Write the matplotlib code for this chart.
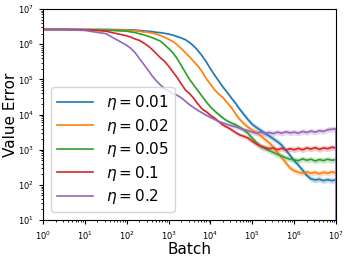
import numpy as np
import matplotlib
matplotlib.use("Agg")
import matplotlib.pyplot as plt

# batch axis, as log10(batch)
batch_exp = [0, 0.5, 1, 1.5,
             2.0, 2.1, 2.2, 2.3, 2.4, 2.5, 2.6, 2.7, 2.8, 2.9,
             3.0, 3.1, 3.2, 3.3, 3.4, 3.5, 3.6, 3.7, 3.8, 3.9,
             4.0, 4.1, 4.2, 4.3, 4.4, 4.5, 4.6, 4.7, 4.8, 4.9,
             5.0, 5.1, 5.2, 5.3, 5.4, 5.5, 5.6, 5.7, 5.8, 5.9,
             6.0, 6.1, 6.2, 6.3, 6.4, 6.5, 6.6, 6.7, 6.8, 6.9,
             7.0]

# value error, as log10(error), one list per learning rate
err_001 = [6.42, 6.42, 6.42, 6.42,
           6.41, 6.41, 6.40, 6.39, 6.38, 6.37, 6.36, 6.34, 6.33, 6.31,
           6.29, 6.26, 6.22, 6.18, 6.13, 6.05, 5.95, 5.82, 5.67, 5.50,
           5.30, 5.12, 4.95, 4.78, 4.63, 4.47, 4.32, 4.15, 4.00, 3.85,
           3.72, 3.63, 3.55, 3.47, 3.39, 3.31, 3.23, 3.13, 2.99, 2.84,
           2.69, 2.56, 2.42, 2.27, 2.17, 2.14, 2.16, 2.12, 2.15, 2.12,
           2.15]
err_002 = [6.42, 6.42, 6.42, 6.41,
           6.40, 6.39, 6.38, 6.37, 6.35, 6.34, 6.32, 6.29, 6.25, 6.20,
           6.14, 6.08, 5.99, 5.88, 5.76, 5.64, 5.51, 5.38, 5.22, 5.02,
           4.86, 4.70, 4.58, 4.48, 4.34, 4.20, 4.02, 3.86, 3.74, 3.64,
           3.56, 3.49, 3.40, 3.30, 3.20, 3.08, 2.92, 2.78, 2.63, 2.48,
           2.40, 2.36, 2.33, 2.37, 2.33, 2.36, 2.31, 2.36, 2.33, 2.37,
           2.34]
err_005 = [6.42, 6.42, 6.41, 6.40,
           6.37, 6.35, 6.33, 6.30, 6.27, 6.23, 6.19, 6.14, 6.09, 5.99,
           5.88, 5.76, 5.60, 5.40, 5.20, 5.00, 4.84, 4.68, 4.52, 4.36,
           4.22, 4.10, 4.00, 3.90, 3.82, 3.76, 3.71, 3.64, 3.56, 3.46,
           3.33, 3.20, 3.10, 3.04, 2.98, 2.92, 2.87, 2.82, 2.77, 2.73,
           2.71, 2.69, 2.74, 2.70, 2.73, 2.68, 2.72, 2.69, 2.73, 2.70,
           2.72]
err_01 = [6.42, 6.42, 6.41, 6.37,
          6.24, 6.20, 6.15, 6.11, 6.04, 5.96, 5.86, 5.74, 5.62, 5.52,
          5.38, 5.22, 5.06, 4.88, 4.70, 4.60, 4.46, 4.30, 4.16, 4.08,
          3.98, 3.90, 3.80, 3.70, 3.64, 3.57, 3.49, 3.42, 3.38, 3.33,
          3.24, 3.16, 3.10, 3.06, 3.03, 3.05, 3.00, 3.04, 2.99, 3.03,
          3.00, 3.04, 3.00, 3.05, 3.02, 3.06, 3.01, 3.05, 3.03, 3.07,
          3.05]
err_02 = [6.41, 6.41, 6.39, 6.30,
          5.97, 5.88, 5.76, 5.60, 5.44, 5.28, 5.11, 4.97, 4.85, 4.74,
          4.67, 4.60, 4.55, 4.48, 4.38, 4.28, 4.20, 4.12, 4.05, 3.98,
          3.92, 3.86, 3.80, 3.76, 3.72, 3.68, 3.65, 3.61, 3.57, 3.54,
          3.50, 3.47, 3.50, 3.46, 3.49, 3.46, 3.50, 3.47, 3.51, 3.48,
          3.50, 3.47, 3.52, 3.49, 3.53, 3.50, 3.54, 3.52, 3.57, 3.58,
          3.60]

# half-width of the shaded band, in decades
spread = [0, 0, 0, 0,
          0.01, 0.01, 0.01, 0.01, 0.01, 0.01, 0.01, 0.01, 0.01, 0.01,
          0.02, 0.02, 0.02, 0.02, 0.02, 0.03, 0.03, 0.03, 0.03, 0.03,
          0.03, 0.03, 0.04, 0.04, 0.04, 0.05, 0.05, 0.06, 0.06, 0.07,
          0.07, 0.08, 0.08, 0.08, 0.08, 0.08, 0.08, 0.08, 0.08, 0.08,
          0.08, 0.08, 0.08, 0.08, 0.08, 0.08, 0.08, 0.08, 0.08, 0.08,
          0.08]

labels = [r"$\eta = 0.01$", r"$\eta = 0.02$", r"$\eta = 0.05$", r"$\eta = 0.1$", r"$\eta = 0.2$"]
series = [err_001, err_002, err_005, err_01, err_02]
colors = ["tab:blue", "tab:orange", "tab:green", "tab:red", "tab:purple"]

fig = plt.figure(figsize=(3.49, 2.58), dpi=100)
ax = fig.add_axes([0.123, 0.147, 0.840, 0.818])

x = 10 ** np.array(batch_exp)
sp = np.array(spread)
for vals, lab, c in zip(series, labels, colors):
    v = np.array(vals)
    ax.fill_between(x, 10 ** (v - sp), 10 ** (v + sp), color=c, alpha=0.25, linewidth=0)
    ax.plot(x, 10 ** v, color=c, linewidth=1.2, label=lab)

# last logged point drops to zero at the end of the run
ax.plot([x[-1], x[-1]], [10 ** err_02[-1], 1], color="tab:purple", linewidth=1.2)

ax.set_xscale("log")
ax.set_yscale("log")
ax.set_xlim(1, 1e7)
ax.set_ylim(10, 1e7)
ax.set_xticks([10 ** k for k in range(8)])
ax.set_yticks([10 ** k for k in range(1, 8)])
ax.tick_params(labelsize=6, length=3, width=0.8)
ax.tick_params(which="minor", length=1.5, width=0.6)
ax.set_xlabel("Batch", fontsize=11)
ax.set_ylabel("Value Error", fontsize=11)
ax.xaxis.set_label_coords(0.5, -0.102)
ax.yaxis.set_label_coords(-0.086, 0.5)

ax.legend(loc="lower left", fontsize=11, handlelength=2.4, labelspacing=0.3,
          borderpad=0.4, handletextpad=0.8, borderaxespad=0.5)

fig.savefig("out.png", dpi=100)
